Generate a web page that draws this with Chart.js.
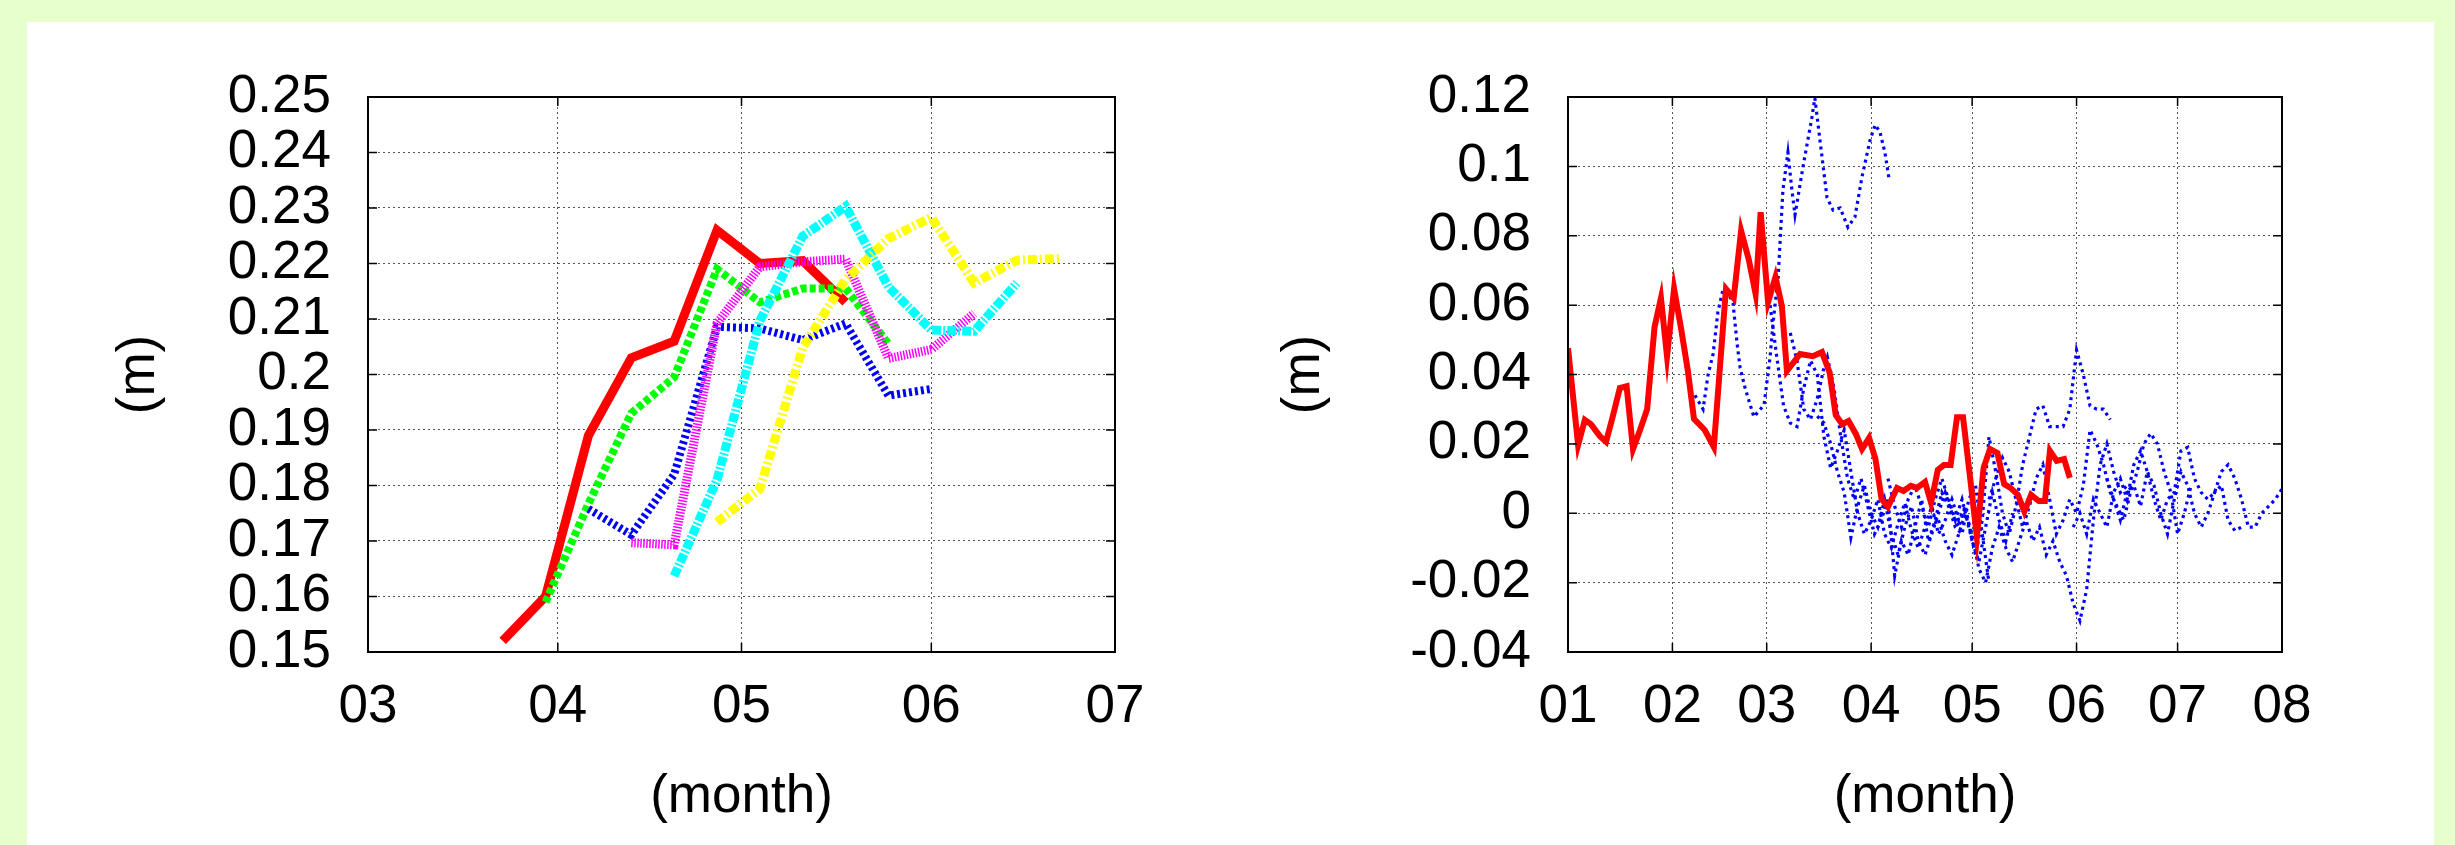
<!DOCTYPE html>
<html>
<head>
<meta charset="utf-8">
<script src="https://cdn.jsdelivr.net/npm/chart.js@4.4.1/dist/chart.umd.min.js"></script>
<style>
  html, body { margin: 0; padding: 0; }
  body { width: 2455px; height: 845px; background: #e6ffcc; position: relative; overflow: hidden; }
  #panel { position: absolute; left: 27px; top: 22px; width: 2407px; height: 823px; background: #fff; }
  canvas { position: absolute; top: 0; }
  #c1 { left: 0; }
  #c2 { left: 1230px; }
</style>
</head>
<body>
<div id="panel"></div>
<canvas id="c1" width="1230" height="845"></canvas>
<canvas id="c2" width="1225" height="845"></canvas>
<script>
// x values are day of year (Jan 1 = 0)
const monthStarts = [0, 31, 59, 90, 120, 151, 181, 212];
const monthLabels = ['01', '02', '03', '04', '05', '06', '07', '08'];

// left panel, weekly values
const weekDays = [81, 88, 95, 102, 109, 116, 123, 130, 137, 144, 151, 158, 165, 172];
const redWeekly     = [0.152, 0.160, 0.189, 0.203, 0.206, 0.226, 0.220, 0.2205, 0.213];
const greenWeekly   = [null, 0.159, 0.1767, 0.193, 0.1995, 0.219, 0.213, 0.2155, 0.2155, 0.2055];
const blueWeekly    = [null, null, 0.1758, 0.1711, 0.182, 0.2086, 0.2083, 0.2062, 0.2092, 0.1962, 0.1974];
const magentaWeekly = [null, null, null, 0.1697, 0.1693, 0.2092, 0.2194, 0.2203, 0.2208, 0.2029, 0.2045, 0.211];
const cyanWeekly    = [null, null, null, null, 0.1637, 0.181, 0.2097, 0.2249, 0.2303, 0.2158, 0.208, 0.2078, 0.2165];
const yellowWeekly  = [null, null, null, null, null, 0.1734, 0.1794, 0.2048, 0.2171, 0.2245, 0.2283, 0.2165, 0.2206, 0.2209];

// right panel, red observed series
const redDays = [0, 3, 5, 6.8, 9.4, 11.3, 13.1, 15.4, 17.4, 19.3, 21.4, 23.5, 25.7, 27.6, 29.4, 31.5, 33.6, 35.6, 37.4,
  40.6, 43.3, 46.9, 49.2, 51.4, 53.7, 55.7, 57.2, 59.4, 61.6, 63.5, 65, 68.9, 72.7, 75.4, 77.7, 79.5, 81.4, 83.3, 85.5,
  87.3, 89.4, 91.3, 93.1, 95, 97.7, 99.6, 101.8, 103.6, 106, 107.8, 109.8, 111.6, 113.6, 115.5, 117.3, 119.4, 121.4,
  123.4, 125.3, 127.5, 129.5, 131.4, 133.6, 135.5, 137.5, 139.8, 141.6, 143.1, 145.1, 147.3, 149];
const redValues = [0.0476, 0.0197, 0.0269, 0.0257, 0.0223, 0.0206, 0.0272, 0.0361, 0.0366, 0.0185, 0.024, 0.030, 0.0537,
  0.062, 0.0453, 0.0647, 0.0531, 0.041, 0.0272, 0.024, 0.0191, 0.0647, 0.062, 0.0814, 0.073, 0.0632, 0.0868, 0.0609,
  0.0681, 0.0598, 0.041, 0.0459, 0.0453, 0.0465, 0.0405, 0.0283, 0.0257, 0.0266, 0.0228, 0.0185, 0.0217, 0.0156, 0.0041,
  0.0018, 0.0073, 0.0064, 0.0079, 0.0073, 0.009, 0.003, 0.0125, 0.0139, 0.0139, 0.0277, 0.0277, 0.0102, -0.0068, 0.0131,
  0.0185, 0.0174, 0.0084, 0.0073, 0.0053, 0.0005, 0.0053, 0.0035, 0.0035, 0.018, 0.0151, 0.0156, 0.0102];

// right panel, blue dotted runs as [day, value]
const blue1 = [[37.7,0.034],[40.1,0.030],[41.6,0.040],[43.1,0.046],[44.5,0.058],[46,0.0644],[47.5,0.0635],[49,0.0606],
  [50.2,0.049],[51.1,0.042],[52.6,0.036],[55.2,0.0278],[58.2,0.0312],[60,0.045],[60.9,0.055],[62.4,0.068],[63.8,0.093],
  [65.3,0.104],[66.5,0.093],[67.4,0.086],[69.8,0.100],[72.4,0.114],[73.3,0.1197],[74.8,0.1076],[76.9,0.091],[78.7,0.0874],
  [80.8,0.088],[83.1,0.0825],[85.2,0.0854],[87.3,0.097],[89.7,0.1076],[91.2,0.112],[92.6,0.110],[94.1,0.104],[95.3,0.0966]];
const blue2 = [[60,0.060],[62,0.045],[64,0.031],[66,0.026],[68,0.025],[70,0.036],[72,0.044],[74,0.040],[76,0.022],[78,0.013],
  [80,0.018],[82,0.024],[84,0.012],[86,0.000],[88,-0.006],[90,-0.002],[92,0.004],[94,-0.006],[96,-0.010],[98,-0.003],
  [100,0.003],[102,-0.005],[104,-0.010],[106,-0.004],[108,0.002],[110,-0.006],[112,-0.002],[114,0.004],[116,-0.002],[118,0.002]];
const blue3 = [[66,0.052],[68,0.044],[70,0.030],[72,0.027],[74,0.033],[76,0.042],[77,0.045],[79,0.036],[81,0.022],[83,0.010],
  [85,0.004],[87,0.010],[89,0.002],[91,-0.006],[93,-0.002],[95,0.004],[97,-0.018],[99,-0.008],[101,-0.012],[103,-0.004],
  [105,0.004],[107,-0.008],[109,-0.002],[111,0.006],[113,0.002],[115,-0.004],[117,-0.006],[119,0.004],[121,0.008],[123,-0.006],[125,-0.020]];
const blue4 = [[74,0.028],[76,0.026],[78,0.020],[80,0.012],[82,0.006],[84,-0.007],[86,0.002],[88,0.008],[90,0.000],[92,-0.004],
  [94,0.004],[96,-0.006],[98,-0.012],[100,-0.004],[102,0.002],[104,-0.008],[106,-0.012],[108,-0.006],[110,0.000],[112,0.006],
  [114,0.000],[116,-0.004],[118,0.002],[120,-0.008],[122,-0.014],[124,-0.004],[126,0.006],[128,-0.002],[130,-0.008],[132,0.000]];
const blue5 = [[95,0.010],[97,0.002],[99,-0.004],[101,0.004],[103,0.008],[105,0.002],[107,-0.004],[109,0.004],[111,0.010],
  [113,0.004],[115,-0.002],[117,0.004],[119,-0.004],[121,-0.012],[123,-0.002],[125,0.022],[127,0.012],[129,0.000],[131,-0.006],
  [133,0.002],[135,0.014],[137,0.022],[139,0.030],[141,0.031],[143,0.025],[145,0.025],[147,0.025],[149,0.030],[151,0.047],
  [153,0.040],[155,0.031],[157,0.030],[159,0.030],[161,0.027]];
const blue6 = [[110,-0.002],[112,-0.008],[114,-0.012],[116,-0.006],[118,0.000],[120,-0.006],[122,-0.016],[124,-0.020],
  [126,-0.010],[128,-0.004],[130,-0.010],[132,-0.014],[134,-0.008],[136,-0.002],[138,-0.008],[140,-0.004],[142,-0.012],
  [144,-0.008],[146,-0.014],[148,-0.018],[150,-0.026],[152,-0.031],[154,-0.022],[156,-0.002],[158,0.014],[160,0.020],
  [162,0.012],[164,0.006],[166,0.008],[168,0.006]];
const blue7 = [[125,0.004],[127,0.010],[129,0.016],[131,0.012],[133,0.004],[135,-0.004],[137,0.002],[139,0.010],[141,0.014],
  [143,0.004],[145,-0.006],[147,-0.002],[149,0.004],[151,0.000],[153,0.008],[155,0.024],[157,0.020],[159,0.014],[161,0.006],
  [163,0.002],[165,-0.002],[167,0.006],[169,0.012],[171,0.020],[173,0.023],[175,0.020],[177,0.012],[179,0.006],[181,-0.006],
  [183,0.000],[185,0.008]];
const blue8 = [[150,-0.004],[152,0.000],[154,-0.006],[156,0.004],[158,0.000],[160,-0.004],[162,0.006],[164,0.010],[166,0.004],
  [168,0.014],[170,0.018],[172,0.012],[174,0.004],[176,-0.002],[178,0.004],[180,0.006],[182,0.018],[184,0.019],[186,0.010],
  [188,0.006],[190,0.004],[192,0.006],[194,0.012],[196,0.014],[198,0.010],[200,0.004],[202,-0.004],[204,-0.004],[206,0.000],
  [208,0.002],[210,0.004],[212,0.007]];
const blue9 = [[160,0.010],[162,0.004],[164,-0.002],[166,0.006],[168,0.008],[170,0.002],[172,0.012],[174,0.008],[176,0.000],
  [178,-0.006],[180,0.004],[182,0.012],[184,0.008],[186,0.000],[188,-0.004],[190,0.000],[192,0.006],[194,0.008],[196,-0.002],
  [198,-0.005],[200,-0.004]];

Chart.defaults.font.family = "'Liberation Sans', Arial, sans-serif";
Chart.defaults.color = '#000';

const FONT = { size: 53 };

function weekly(values) {
  return values.map((v, i) => ({ x: weekDays[i], y: v }));
}
function pairs(list) {
  return list.map(p => ({ x: p[0], y: p[1] }));
}
function fmt(v) {
  return String(parseFloat(v.toFixed(3)));
}

// box round the plot area plus gnuplot-style inward ticks
const frame = {
  id: 'frame',
  afterDraw(chart) {
    const { ctx, chartArea: a, scales: { x, y } } = chart;
    ctx.save();
    ctx.strokeStyle = '#000';
    ctx.lineWidth = 1.5;
    ctx.beginPath();
    y.ticks.forEach(t => {
      const p = y.getPixelForValue(t.value);
      ctx.moveTo(a.left, p); ctx.lineTo(a.left + 9, p);
      ctx.moveTo(a.right, p); ctx.lineTo(a.right - 9, p);
    });
    x.ticks.forEach(t => {
      const p = x.getPixelForValue(t.value);
      ctx.moveTo(p, a.bottom); ctx.lineTo(p, a.bottom - 9);
      ctx.moveTo(p, a.top); ctx.lineTo(p, a.top + 9);
    });
    ctx.stroke();
    ctx.lineWidth = 2;
    ctx.strokeRect(a.left, a.top, a.right - a.left, a.bottom - a.top);
    ctx.restore();
  }
};

function axes(o) {
  return {
    x: {
      type: 'linear', min: o.xmin, max: o.xmax,
      afterBuildTicks: s => { s.ticks = monthStarts.filter(v => v >= o.xmin && v <= o.xmax).map(v => ({ value: v })); },
      afterFit: s => { s.height = 193; },
      grid: { color: '#555', lineWidth: 1, drawTicks: false },
      border: { display: false, dash: [2, 3] },
      ticks: {
        font: FONT, padding: 24, autoSkip: false, maxRotation: 0,
        callback: v => monthLabels[monthStarts.indexOf(v)]
      },
      title: { display: true, text: '(month)', font: FONT, padding: { top: 0, bottom: 16 } }
    },
    y: {
      min: o.ymin, max: o.ymax,
      afterFit: s => { s.width = o.yw; },
      grid: { color: '#555', lineWidth: 1, drawTicks: false },
      border: { display: false, dash: [2, 3] },
      ticks: { font: FONT, padding: 37, stepSize: o.step, autoSkip: false, callback: v => fmt(v) },
      title: { display: true, text: '(m)', font: FONT, padding: { top: o.tp, bottom: 0 } }
    }
  };
}

function line(data, color, width, dash, order) {
  return {
    data, borderColor: color, borderWidth: width, borderDash: dash,
    borderCapStyle: 'butt', borderJoinStyle: 'miter',
    pointRadius: 0, tension: 0, fill: false, order
  };
}

new Chart(document.getElementById('c1'), {
  type: 'line',
  data: {
    datasets: [
      line(weekly(redWeekly), '#ff0000', 9, [], 6),
      line(weekly(greenWeekly), '#00ff00', 8, [6, 3], 5),
      line(weekly(blueWeekly), '#0000ff', 8, [3, 3], 4),
      line(weekly(magentaWeekly), '#ff00ff', 9, [1.5, 1.5], 3),
      line(weekly(cyanWeekly), '#00ffff', 9, [9, 2, 2, 2], 2),
      line(weekly(yellowWeekly), '#ffff00', 9, [9, 3, 2, 3], 1)
    ]
  },
  options: {
    responsive: false, animation: false, devicePixelRatio: 1,
    layout: { padding: { left: 0, right: 115, top: 97, bottom: 0 } },
    plugins: { legend: { display: false }, tooltip: { enabled: false } },
    scales: axes({ xmin: 59, xmax: 181, ymin: 0.15, ymax: 0.25, step: 0.01, yw: 368, tp: 108 })
  },
  plugins: [frame]
});

const blueRuns = [blue1, blue2, blue3, blue4, blue5, blue6, blue7, blue8, blue9];

new Chart(document.getElementById('c2'), {
  type: 'line',
  data: {
    datasets: [
      line(redDays.map((d, i) => ({ x: d, y: redValues[i] })), '#ff0000', 6, [], 0),
      ...blueRuns.map(r => line(pairs(r), '#0000ff', 3.2, [3, 4], 1))
    ]
  },
  options: {
    responsive: false, animation: false, devicePixelRatio: 1,
    layout: { padding: { left: 0, right: 173, top: 97, bottom: 0 } },
    plugins: { legend: { display: false }, tooltip: { enabled: false } },
    scales: axes({ xmin: 0, xmax: 212, ymin: -0.04, ymax: 0.12, step: 0.02, yw: 338, tp: 43 })
  },
  plugins: [frame]
});
</script>
</body>
</html>
